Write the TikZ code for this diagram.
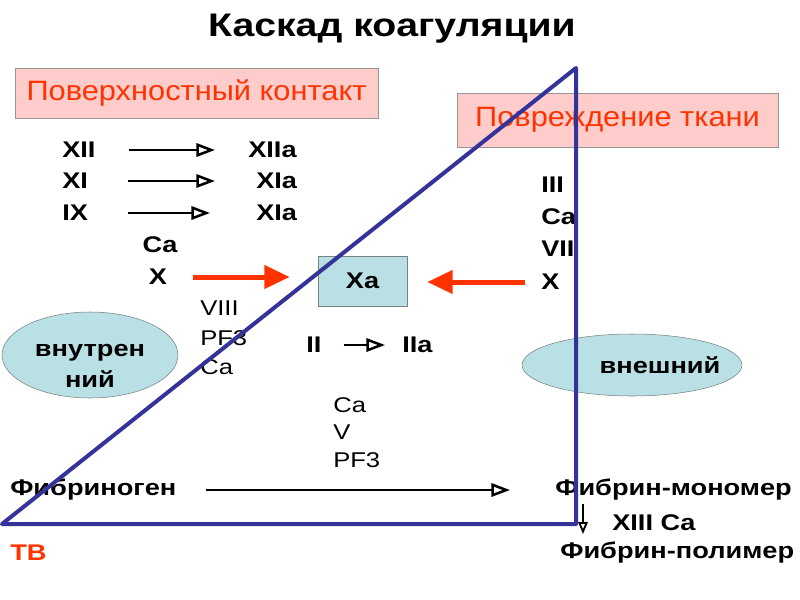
\documentclass[tikz,border=0pt]{standalone}
\usepackage{fontspec}
\setmainfont{Liberation Sans}[FakeStretch=1.2]
\usetikzlibrary{arrows.meta,shapes.geometric}

\begin{document}
\begin{tikzpicture}[x=0.75pt,y=0.75pt,yscale=-1,xscale=1,
  lbl/.style={inner sep=0pt, font=\fontsize{17}{24}\selectfont\bfseries},
  lite/.style={inner sep=0pt, align=left, font=\fontsize{16}{22}\selectfont},
  pinkbox/.style={draw={rgb, 255:red, 150; green, 150; blue, 150}, fill={rgb, 255:red, 255; green, 204; blue, 204}, text={rgb, 255:red, 255; green, 51; blue, 0}, font=\fontsize{21}{24}\selectfont\addfontfeatures{FakeStretch=1.1}},
  cyan/.style={draw={rgb, 255:red, 120; green, 130; blue, 130}, fill={rgb, 255:red, 185; green, 224; blue, 228}, font=\fontsize{17}{23}\selectfont\bfseries, align=center, inner sep=0pt},
  blk/.style={line width=1.9pt, -{Triangle[open, length=14pt, width=10pt]}},
  redarr/.style={draw={rgb, 255:red, 255; green, 51; blue, 0}, fill={rgb, 255:red, 255; green, 51; blue, 0}, line width=3.75pt, -{Triangle[length=19pt, width=17pt]}}
]
\path[use as bounding box] (0,0) rectangle (800,600);

%Title
\node[font=\fontsize{24.5}{28}\selectfont\bfseries] (title) at (392,29) {Каскад коагуляции};

%Shape: Rectangle -- contact / damage
\node[pinkbox, minimum width=272.25pt, minimum height=37.5pt] (contact) at (196.5,93) {Поверхностный контакт};
\node[pinkbox, minimum width=240.75pt, minimum height=40.5pt] (damage) at (617.5,120) {Повреждение ткани};

%intrinsic factors
\node[lbl, anchor=west] (xii) at (62,150) {XII};
\node[lbl, anchor=west] (xi) at (62,181) {XI};
\node[lbl, anchor=west] (ix) at (62,213) {IX};
\node[lbl, anchor=west] (xiia) at (248,150) {XIIa};
\node[lbl, anchor=west] (xia) at (256,181) {XIa};
\node[lbl, anchor=west] (xib) at (256,213) {XIa};
\draw[blk, shorten <=24.75pt, shorten >=24.75pt] (xii) -- (xiia);
\draw[blk, shorten <=30pt, shorten >=30.75pt] (xi) -- (xia);
\draw[blk, shorten <=30pt, shorten >=34.5pt] (ix) -- (xib);

\node[lbl] (caleft) at (160,245) {Ca};
\node[lbl] (xleft) at (158,277) {X};

%Shape: Rectangle -- Xa
\node[cyan, minimum width=66.75pt, minimum height=37.5pt] (xa) at (362.5,281) {Xa};

%extrinsic factors
\node[lbl, anchor=north west, align=left] (extf) at (541,177) {III\\Ca\\VII};
\node[lbl, anchor=west] (xright) at (541,282) {X};

\draw[redarr, shorten <=19.5pt, shorten >=21pt] (xleft.east) -- (xleft.east -| xa.west);
\draw[redarr, shorten <=12pt, shorten >=15pt] (xright.west) -- (xright.west -| xa.east);

\node[lite, anchor=north west] (cofa) at (200,301) {VIII\\PF3\\Ca};

\node[lbl, anchor=west] (ii) at (306,345) {II};
\node[lbl, anchor=west] (iia) at (402,345) {IIa};
\draw[blk, shorten <=16.5pt, shorten >=12.75pt] (ii) -- (iia);

\node[lite, anchor=north west, font=\fontsize{16}{20.6}\selectfont] (cofb) at (333,397) {Ca\\V\\PF3};

%Shape: Ellipse
\node[cyan, ellipse, minimum width=132pt, minimum height=64.5pt,
  label={[cyan, draw=none, fill=none, yshift=-8pt]center:внутрен\\ний}] (inner) at (90,355) {};
\node[cyan, ellipse, minimum width=165pt, minimum height=46.5pt,
  label={[cyan, draw=none, fill=none, xshift=21pt]center:внешний}] (outer) at (632,365) {};

%fibrin
\node[lbl, anchor=west] (fgen) at (10,490) {Фибриноген};
\node[lbl, anchor=west] (mono) at (555,490) {Фибрин-мономер};
\node[lbl, anchor=west] (xiii) at (612,523) {XIII Ca};
\node[lbl, anchor=west] (poly) at (560,553) {Фибрин-полимер};
\draw[blk, shorten <=21.75pt, shorten >=33.75pt] (fgen) -- (mono);
\coordinate (down) at (583,0);
\draw[line width=1.4pt, -{Triangle[open, length=9pt, width=7pt]}, shorten <=2pt, shorten >=6pt] (mono.south -| down) -- (poly.north -| down);

\node[lbl, anchor=west, text={rgb, 255:red, 255; green, 51; blue, 0}] (tv) at (10,553) {ТВ};

%Shape: Triangle
\draw[color={rgb, 255:red, 51; green, 51; blue, 153}, line width=3pt, line join=round] (2,524) -- (576,68) -- (576,524) -- cycle;
\end{tikzpicture}
\end{document}
